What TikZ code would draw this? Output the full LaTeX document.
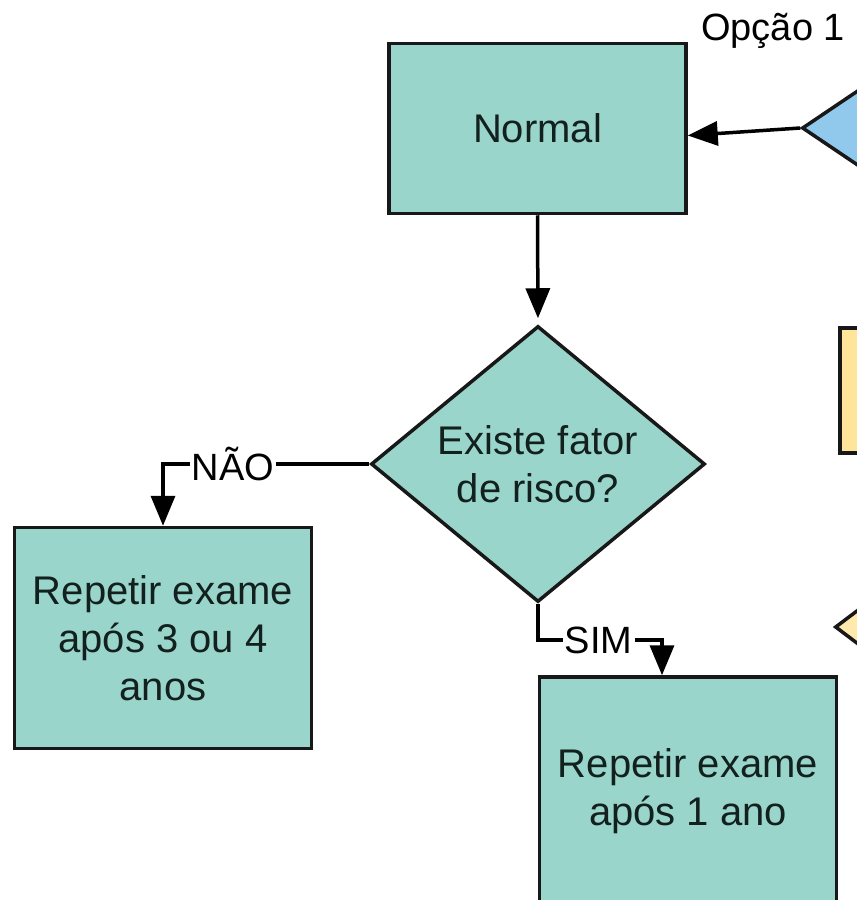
\documentclass[tikz,border=0pt]{standalone}
\usepackage{fontspec}
\setmainfont{Liberation Sans}
\usetikzlibrary{shapes.geometric,arrows.meta,calc}

\definecolor{edge}{RGB}{24,24,24}
\definecolor{ink}{RGB}{18,32,30}
\definecolor{tealfill}{RGB}{154,213,204}
\definecolor{skyfill}{RGB}{145,201,237}
\definecolor{sandfill}{RGB}{255,229,153}
\definecolor{creamfill}{RGB}{255,234,172}

\newcommand\bigtxt{\fontsize{40}{48}\selectfont}
\newcommand\lbltxt{\fontsize{38}{44}\selectfont}

\tikzset{
  stepbox/.style={rectangle, draw=edge, line width=3.5pt, fill=tealfill,
    inner sep=0pt, align=center, font=\bigtxt, text=ink},
  decision/.style={diamond, draw=edge, line width=3.5pt, fill=tealfill,
    inner sep=0pt, aspect=1.21, align=center, font=\bigtxt, text=ink},
  lbl/.style={fill=white, inner sep=2pt, font=\lbltxt, text=black},
  arr/.style={draw=black, line width=3.5pt,
    -{Triangle[length=30pt,width=24pt]}},
}

\begin{document}
\begin{tikzpicture}[x=1pt,y=-1pt]
\useasboundingbox (0,0) rectangle (857,900);
\clip (0,0) rectangle (857,900);

% partially visible shapes on the right side
\node[diamond, draw=edge, line width=3.5pt, fill=skyfill, inner sep=0pt,
      minimum width=400pt, minimum height=270pt] (opt) at (1002,128) {};
\node[rectangle, draw=edge, line width=3.5pt, fill=sandfill, inner sep=0pt,
      minimum width=300pt, minimum height=125pt, anchor=north west]
      (note) at (838,326) {};
\node[diamond, draw=edge, line width=3.5pt, fill=creamfill, inner sep=0pt,
      minimum width=330pt, minimum height=250pt] (tip) at (1000,627) {};
\node[anchor=base west, inner sep=0pt, font=\lbltxt, text=black]
      (opt1) at (701,40) {Opção 1};

% main flow
\node[stepbox, minimum width=297pt, minimum height=170pt]
      (normal) at (537.5,128.5) {Normal};
\node[decision, minimum width=334pt, minimum height=276pt]
      (risk) at (538,464) {Existe fator\\de risco?};
\node[stepbox, minimum width=297pt, minimum height=221pt]
      (rep34) at (163,638) {Repetir exame\\após 3 ou 4\\anos};
\node[stepbox, minimum width=297pt, minimum height=228pt]
      (rep1) at (688,791) {Repetir exame\\após 1 ano};

\coordinate (simturn) at (662,640);

% connectors
\draw[arr] (opt.west) -- ([yshift=-7pt]normal.east);
\draw[arr, shorten >=6pt] (normal.south) -- (risk.north);
\draw[arr] (risk.west) -| node[lbl, pos=0.33] (no) {NÃO} (rep34.north);
\draw[arr] (risk.south) |- node[lbl, pos=0.745] (yes) {SIM} (simturn)
      -- (rep1.north -| simturn);
\end{tikzpicture}
\end{document}
